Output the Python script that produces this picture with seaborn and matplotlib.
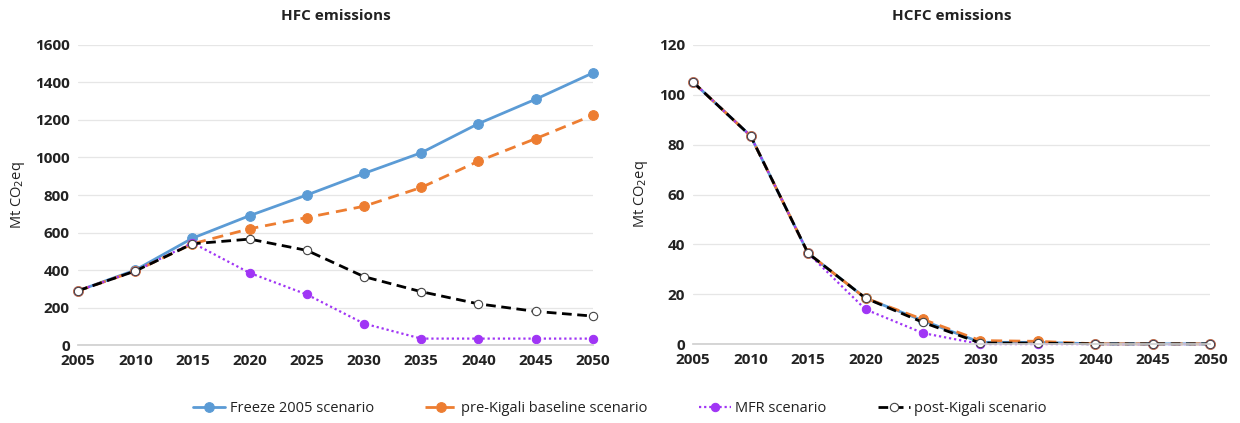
import matplotlib
matplotlib.use("Agg")
import matplotlib.pyplot as plt
import seaborn as sns
import pandas as pd

years = [2005, 2010, 2015, 2020, 2025, 2030, 2035, 2040, 2045, 2050]

hfc_freeze = [290, 400, 570, 690, 800, 915, 1025, 1180, 1310, 1450]
hfc_prekigali = [290, 395, 540, 620, 680, 740, 840, 980, 1100, 1225]
hfc_mfr = [290, 395, 545, 385, 270, 115, 35, 35, 35, 35]
hfc_postkigali = [290, 395, 540, 565, 505, 365, 285, 220, 180, 155]

hcfc_freeze = [105, 83.5, 36.5, 18.5, 9.5, 0.8, 0.8, 0.2, 0.2, 0.2]
hcfc_prekigali = [105, 83.5, 36.5, 18.5, 10, 1.5, 1.2, 0.2, 0.2, 0.2]
hcfc_mfr = [105, 83.5, 36.5, 14, 4.5, 0.1, 0.1, 0.1, 0.1, 0.1]
hcfc_postkigali = [105, 83.5, 36.5, 18.5, 8.8, 0.5, 0.5, 0.2, 0.2, 0.2]

series_names = ["Freeze 2005 scenario", "pre-Kigali baseline scenario",
                "MFR scenario", "post-Kigali scenario"]

sns.set_theme(style="white")
plt.rcParams['font.family'] = ['Open Sans', 'DejaVu Sans']

styles = {
    "Freeze 2005 scenario": dict(color="#5B9BD5", linestyle="-", marker="o",
                                 markerfacecolor="#5B9BD5", markeredgecolor="#5B9BD5",
                                 markersize=7, linewidth=2),
    "pre-Kigali baseline scenario": dict(color="#ED7D31", linestyle=(0, (4, 2.5)), marker="o",
                                         markerfacecolor="#ED7D31", markeredgecolor="#ED7D31",
                                         markersize=7, linewidth=2),
    "MFR scenario": dict(color="#A035F5", linestyle=(0, (1, 1.3)), marker="o",
                         markerfacecolor="#A035F5", markeredgecolor="#A035F5",
                         markersize=6, linewidth=1.6),
    "post-Kigali scenario": dict(color="black", linestyle=(0, (3.5, 2)), marker="o",
                                 markerfacecolor="white", markeredgecolor="#444444",
                                 markersize=6, linewidth=2, markeredgewidth=0.8),
}

fig = plt.figure(figsize=(12.4, 4.23), dpi=100)
ax1 = fig.add_axes([0.063, 0.184, 0.415, 0.71])
ax2 = fig.add_axes([0.559, 0.186, 0.417, 0.708])

def draw(ax, data_lists, ymax, ystep, title):
    for name, vals in zip(series_names, data_lists):
        df = pd.DataFrame({"year": years, "value": vals})
        st = dict(styles[name])
        sns.lineplot(data=df, x="year", y="value", ax=ax, label=name,
                     legend=False, clip_on=False, **st)
    ax.set_xlim(2005, 2050)
    ax.set_ylim(0, ymax)
    ax.set_xticks(years)
    ax.set_yticks(range(0, ymax + 1, ystep))
    ax.tick_params(axis="both", labelsize=11, length=0, pad=6)
    for lab in ax.get_xticklabels() + ax.get_yticklabels():
        lab.set_fontweight("bold")
        lab.set_color("#222222")
    ax.grid(axis="y", color="#E6E6E6", linewidth=0.9)
    ax.set_axisbelow(True)
    for s in ["top", "right", "left"]:
        ax.spines[s].set_visible(False)
    ax.spines["bottom"].set_color("#D0D0D0")
    ax.set_xlabel("")
    ax.set_ylabel("Mt CO$_2$eq", fontsize=10.5, color="#222222", labelpad=6)
    ax.set_title(title, fontsize=11, fontweight="bold", color="#222222", pad=18)

draw(ax1, [hfc_freeze, hfc_prekigali, hfc_mfr, hfc_postkigali], 1600, 200, "HFC emissions")
draw(ax2, [hcfc_freeze, hcfc_prekigali, hcfc_mfr, hcfc_postkigali], 120, 20, "HCFC emissions")

handles, labels = ax1.get_legend_handles_labels()
leg = fig.legend(handles, labels, loc="center", bbox_to_anchor=(0.5, 0.035), ncol=4,
                 frameon=False, fontsize=10.5, handlelength=2.2, columnspacing=3.5,
                 handletextpad=0.3)
for t in leg.get_texts():
    t.set_color("#222222")

fig.savefig("out.png", dpi=100)
